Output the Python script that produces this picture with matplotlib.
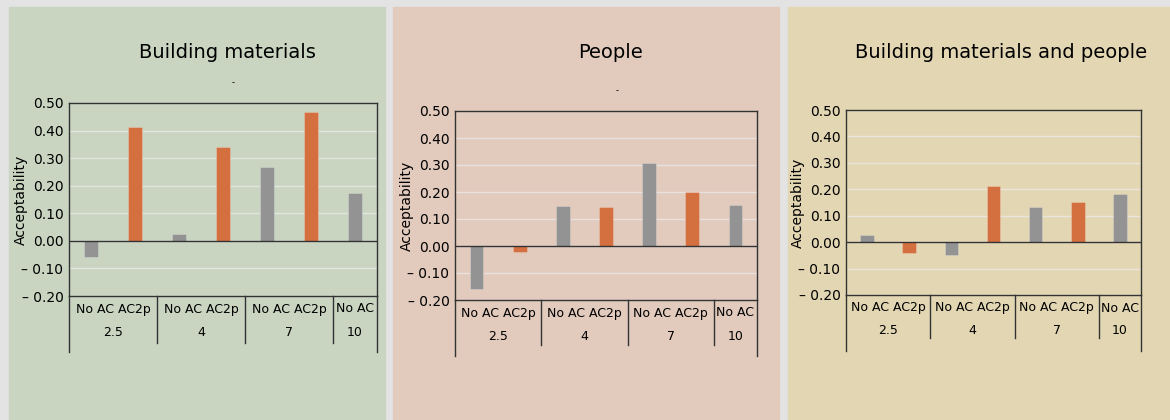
import matplotlib.pyplot as plt
from matplotlib.patches import Rectangle

titles = ["Building materials", "People", "Building materials and people"]
pair_labels = ["No AC AC2p", "No AC AC2p", "No AC AC2p", "No AC"]
groups = ["2.5", "4", "7", "10"]
group_sizes = [2, 2, 2, 1]
is_ac = [False, True, False, True, False, True, False]

materials = [-0.057, 0.412, 0.024, 0.341, 0.269, 0.467, 0.175]
people = [-0.158, -0.022, 0.149, 0.143, 0.306, 0.199, 0.153]
both = [0.028, -0.040, -0.049, 0.213, 0.132, 0.151, 0.183]
values = [materials, people, both]

yticks = [-0.2, -0.1, 0.0, 0.1, 0.2, 0.3, 0.4, 0.5]

W, H = 1170, 420
fig = plt.figure(figsize=(W / 100, H / 100), dpi=100)
fig.patch.set_facecolor("#e3e3e3")

panels = [(9, 385, "#c9d5c1"), (393, 779, "#e2cabd"), (788, 1170, "#e3d6b3")]
axes_px = [(69, 377, 103, 296), (455, 757, 111, 300), (846, 1141, 110, 295)]
inner_drop = [47, 45, 43]
title_x = [227, 610, 1001]
gray = "#939393"
orange = "#d46f3f"
line_c = "#333333"

for i in range(3):
    x0, x1, bg = panels[i]
    fig.patches.append(Rectangle((x0 / W, 0), (x1 - x0) / W, 1 - 7 / H,
                                 transform=fig.transFigure, color=bg, zorder=-5))
    l, r, t, b = axes_px[i]
    ax = fig.add_axes([l / W, 1 - b / H, (r - l) / W, (b - t) / H])
    ax.set_facecolor(bg)
    cols = [orange if a else gray for a in is_ac]
    ax.bar(range(7), values[i], width=0.32, color=cols, zorder=3,
           edgecolor=[(1, 1, 1, 0.25)] * 7, linewidth=0.6)
    ax.set_xlim(-0.5, 6.5)
    ax.set_ylim(-0.2, 0.5)
    ax.set_yticks(yticks)
    ax.set_yticklabels(["– %.2f" % -v if v < 0 else "%.2f" % v for v in yticks],
                       fontsize=10)
    ax.tick_params(axis="y", length=0, pad=4)
    ax.set_xticks([])
    ax.grid(axis="y", color="#ececec", linewidth=1, alpha=0.7, zorder=1)
    ax.axhline(0, color=line_c, linewidth=1, zorder=4)
    for s in ax.spines.values():
        s.set_color(line_c)
        s.set_linewidth(1)
    ax.set_ylabel("Acceptability", fontsize=10)
    ax.yaxis.set_label_coords(-41 / (r - l), 0.5)

    # category rows under the axis, placed by pixel offsets below the axis
    px = 0.7 / (b - t)
    start = 0
    for lab, g, n in zip(pair_labels, groups, group_sizes):
        xc = start + (n - 1) / 2
        ax.text(xc, -0.2 - 13 * px, lab, fontsize=9, ha="center", va="center")
        ax.text(xc, -0.2 - 36 * px, g, fontsize=9, ha="center", va="center")
        start += n
    edges = [-0.5, 1.5, 3.5, 5.5, 6.5]
    for j, e in enumerate(edges):
        drop = 56 if j in (0, len(edges) - 1) else inner_drop[i]
        ax.plot([e, e], [-0.2, -0.2 - drop * px], color=line_c, linewidth=1,
                clip_on=False)

    fig.text(title_x[i] / W, 1 - 52 / H, titles[i],
             fontsize=14, ha="center", va="center")

fig.text(233 / W, 1 - 83 / H, "-", fontsize=6, ha="center", va="center")
fig.text(617 / W, 1 - 91 / H, "-", fontsize=6, ha="center", va="center")

fig.savefig("out.png", dpi=100, facecolor=fig.get_facecolor())
